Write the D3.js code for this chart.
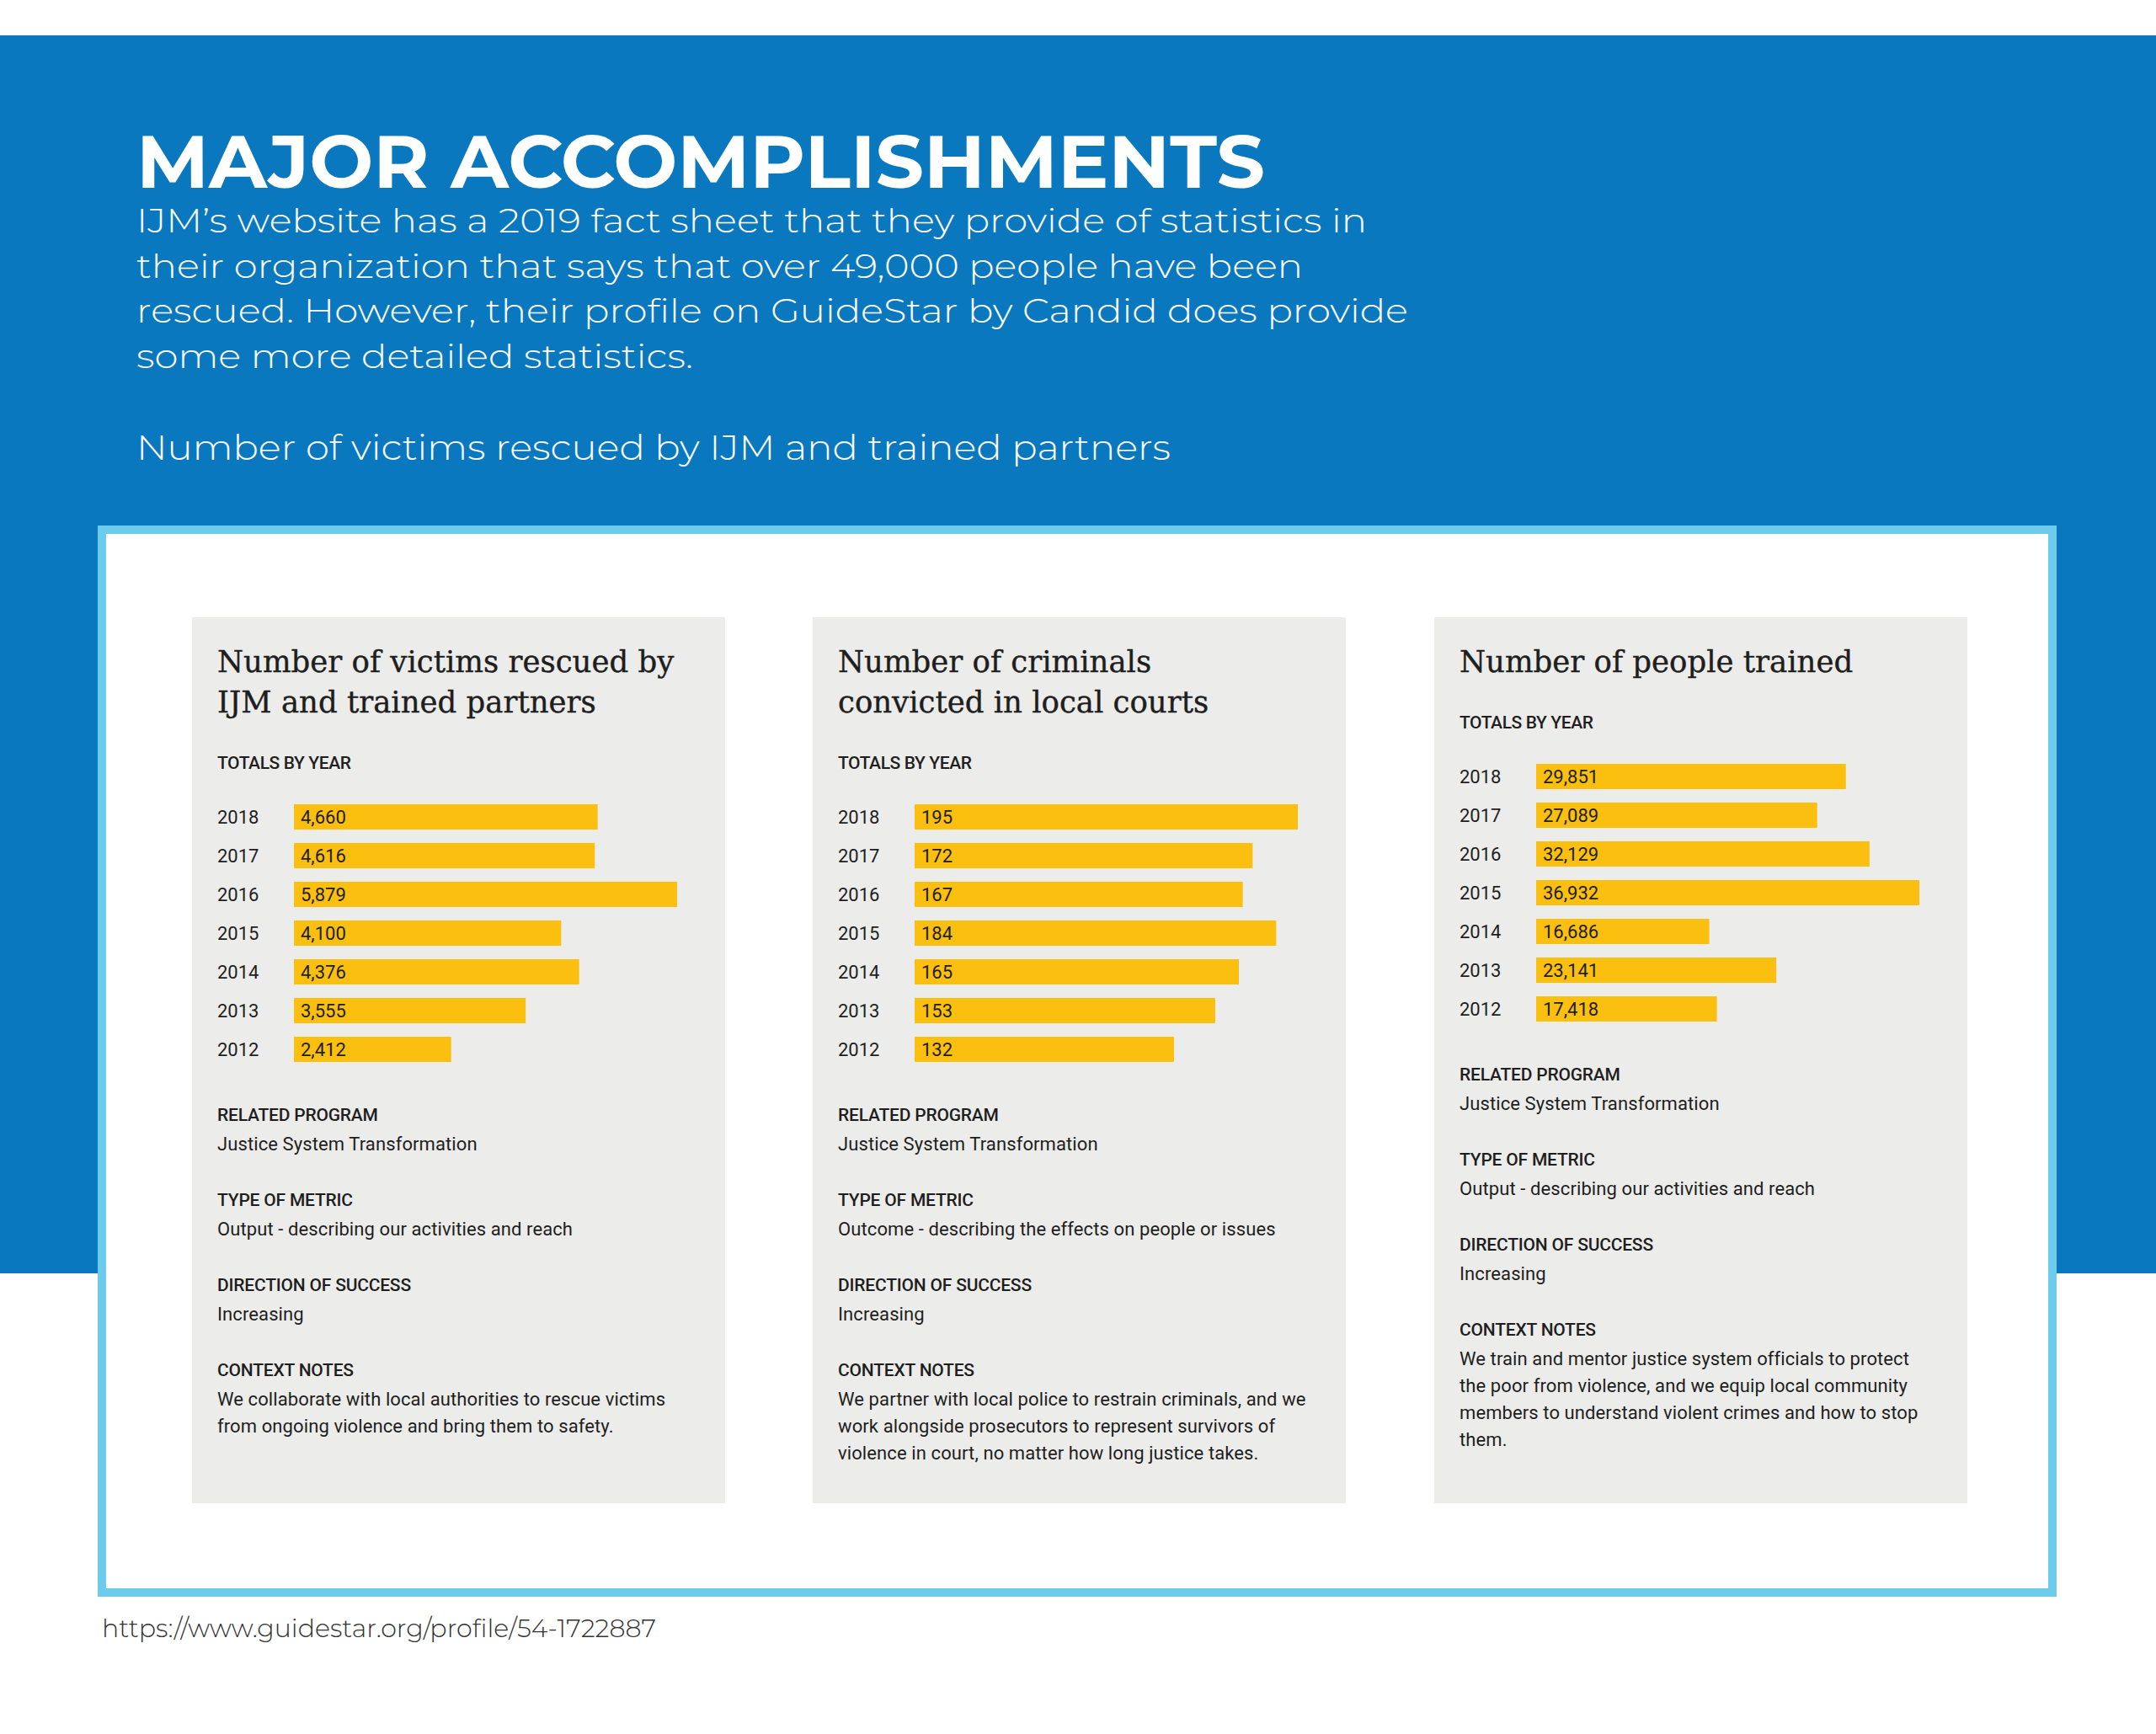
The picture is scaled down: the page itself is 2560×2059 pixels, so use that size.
<!DOCTYPE html>
<html>
<head>
<meta charset="utf-8">
<script src="https://cdn.jsdelivr.net/npm/d3@7"></script>
<style>
	body { margin: 0; background: #fff; }
	text { font-kerning: normal; }
</style>
</head>
<body>
<div id="chart"></div>
<script>
// ---- data ----
var years = ["2018", "2017", "2016", "2015", "2014", "2013", "2012"];
var victimsRescued = [4660, 4616, 5879, 4100, 4376, 3555, 2412];
var criminalsConvicted = [195, 172, 167, 184, 165, 153, 132];
var peopleTrained = [29851, 27089, 32129, 36932, 16686, 23141, 17418];

var panelTitles = [
	["Number of victims rescued by", "IJM and trained partners"],
	["Number of criminals", "convicted in local courts"],
	["Number of people trained"]
];
var sectionHeads = ["RELATED PROGRAM", "TYPE OF METRIC", "DIRECTION OF SUCCESS", "CONTEXT NOTES"];
var relatedProgram = ["Justice System Transformation", "Justice System Transformation", "Justice System Transformation"];
var metricType = [
	"Output - describing our activities and reach",
	"Outcome - describing the effects on people or issues",
	"Output - describing our activities and reach"
];
var direction = ["Increasing", "Increasing", "Increasing"];
var contextNotes = [
	["We collaborate with local authorities to rescue victims",
		"from ongoing violence and bring them to safety."],
	["We partner with local police to restrain criminals, and we",
		"work alongside prosecutors to represent survivors of",
		"violence in court, no matter how long justice takes."],
	["We train and mentor justice system officials to protect",
		"the poor from violence, and we equip local community",
		"members to understand violent crimes and how to stop",
		"them."]
];

var headline = "MAJOR ACCOMPLISHMENTS";
var intro = [
	"IJM\u2019s website has a 2019 fact sheet that they provide of statistics in",
	"their organization that says that over 49,000 people have been",
	"rescued. However, their profile on GuideStar by Candid does provide",
	"some more detailed statistics."
];
var subhead = "Number of victims rescued by IJM and trained partners";
var source = "https://www.guidestar.org/profile/54-1722887";

// ---- layout ----
var W = 2560, H = 2059;
var blue = "#0a78be", frameBlue = "#6dcbeb", panelGrey = "#ececea", barColor = "#fbbf10", ink = "#1e1e1e";
var sansLight = "Montserrat, 'Open Sans', Lato, sans-serif";
var grotesk = "Roboto, 'Liberation Sans', sans-serif";
var serif = "'DejaVu Serif', 'Liberation Serif', serif";

var introWidths = [1461, 1385, 1510, 661];

var svg = d3.select("#chart").append("svg")
	.attr("width", W)
	.attr("height", H)
	.attr("viewBox", "0 0 " + W + " " + H);

svg.append("rect").attr("width", W).attr("height", H).attr("fill", "#fff");
svg.append("rect")
	.attr("x", 0).attr("y", 42)
	.attr("width", W).attr("height", 1470)
	.attr("fill", blue);

// heading block
svg.append("text")
	.attr("x", 162).attr("y", 223)
	.attr("textLength", 1340)
	.attr("lengthAdjust", "spacingAndGlyphs")
	.style("font-family", "Montserrat, 'Open Sans', sans-serif")
	.style("font-weight", 700)
	.style("font-size", "88px")
	.style("fill", "#fff")
	.text(headline);

svg.selectAll("text.intro")
	.data(intro)
	.enter().append("text")
	.attr("class", "intro")
	.attr("x", 162)
	.attr("y", function(d, i) { return 276 + i * 53.5; })
	.attr("textLength", function(d, i) { return introWidths[i]; })
	.attr("lengthAdjust", "spacingAndGlyphs")
	.style("font-family", sansLight)
	.style("font-weight", 300)
	.style("font-size", "40px")
	.style("fill", "#fff")
	.text(function(d) { return d; });

svg.append("text")
	.attr("x", 162).attr("y", 546)
	.attr("textLength", 1228)
	.attr("lengthAdjust", "spacingAndGlyphs")
	.style("font-family", sansLight)
	.style("font-weight", 300)
	.style("font-size", "41px")
	.style("fill", "#fff")
	.text(subhead);

// white card with light blue frame
svg.append("rect")
	.attr("x", 121).attr("y", 629)
	.attr("width", 2316).attr("height", 1262)
	.attr("fill", "#fff")
	.attr("stroke", frameBlue)
	.attr("stroke-width", 10);

svg.append("text")
	.attr("x", 121).attr("y", 1944)
	.attr("textLength", 658)
	.attr("lengthAdjust", "spacingAndGlyphs")
	.style("font-family", sansLight)
	.style("font-weight", 300)
	.style("font-size", "31px")
	.style("fill", "#333")
	.text(source);

// ---- the three metric panels ----
var panels = [
	{ values: victimsRescued, x: 228 },
	{ values: criminalsConvicted, x: 965 },
	{ values: peopleTrained, x: 1703 }
];
var panelY = 733, panelW = 633, panelH = 1052;
var fmt = d3.format(",");

panels.forEach(function(p, k) {
	var g = svg.append("g").attr("transform", "translate(" + p.x + "," + panelY + ")");

	g.append("rect")
		.attr("width", panelW).attr("height", panelH)
		.attr("fill", panelGrey);

	var titles = panelTitles[k];
	g.selectAll("text.ptitle")
		.data(titles)
		.enter().append("text")
		.attr("class", "ptitle")
		.attr("x", 30)
		.attr("y", function(d, i) { return 65 + i * 48; })
		.style("font-family", serif)
		.style("font-size", "35.5px")
		.style("fill", ink)
		.style("stroke", ink)
		.style("stroke-width", "0.4px")
		.text(function(d) { return d; });

	var lastBase = 65 + (titles.length - 1) * 48;

	g.append("text")
		.attr("x", 30).attr("y", lastBase + 67)
		.style("font-family", grotesk)
		.style("font-weight", 500)
		.style("font-size", "21px")
		.style("letter-spacing", "-0.4px")
		.style("fill", ink)
		.text("TOTALS BY YEAR");

	var barTop = lastBase + 109;
	var y = d3.scaleBand()
		.domain(years)
		.range([barTop, barTop + 306])
		.paddingInner(16 / 46)
		.paddingOuter(0);
	var x = d3.scaleLinear()
		.domain([0, d3.max(p.values)])
		.range([0, 455]);

	var rows = g.selectAll("g.row")
		.data(years.map(function(yr, i) { return { year: yr, value: p.values[i] }; }))
		.enter().append("g")
		.attr("class", "row");

	rows.append("rect")
		.attr("x", 121)
		.attr("y", function(d) { return y(d.year); })
		.attr("width", function(d) { return x(d.value); })
		.attr("height", y.bandwidth())
		.attr("fill", barColor);

	rows.append("text")
		.attr("x", 30)
		.attr("y", function(d) { return y(d.year) + y.bandwidth() / 2 + 8; })
		.style("font-family", grotesk)
		.style("font-size", "22px")
		.style("fill", ink)
		.text(function(d) { return d.year; });

	rows.append("text")
		.attr("x", 129)
		.attr("y", function(d) { return y(d.year) + y.bandwidth() / 2 + 8; })
		.style("font-family", grotesk)
		.style("font-size", "22px")
		.style("fill", ink)
		.text(function(d) { return fmt(d.value); });

	// text sections under the bars
	var firstHead = barTop + 306 + 70;
	var bodies = [[relatedProgram[k]], [metricType[k]], [direction[k]], contextNotes[k]];

	sectionHeads.forEach(function(head, i) {
		var hy = firstHead + i * 101;
		g.append("text")
			.attr("x", 30).attr("y", hy)
			.style("font-family", grotesk)
			.style("font-weight", 500)
			.style("font-size", "21px")
			.style("letter-spacing", "-0.2px")
			.style("fill", ink)
			.text(head);

		g.selectAll(null)
			.data(bodies[i])
			.enter().append("text")
			.attr("x", 30)
			.attr("y", function(d, j) { return hy + 35 + j * 32; })
			.style("font-family", grotesk)
			.style("font-size", "22px")
			.style("letter-spacing", "0.1px")
			.style("fill", ink)
			.text(function(d) { return d; });
	});
});
</script>
</body>
</html>
